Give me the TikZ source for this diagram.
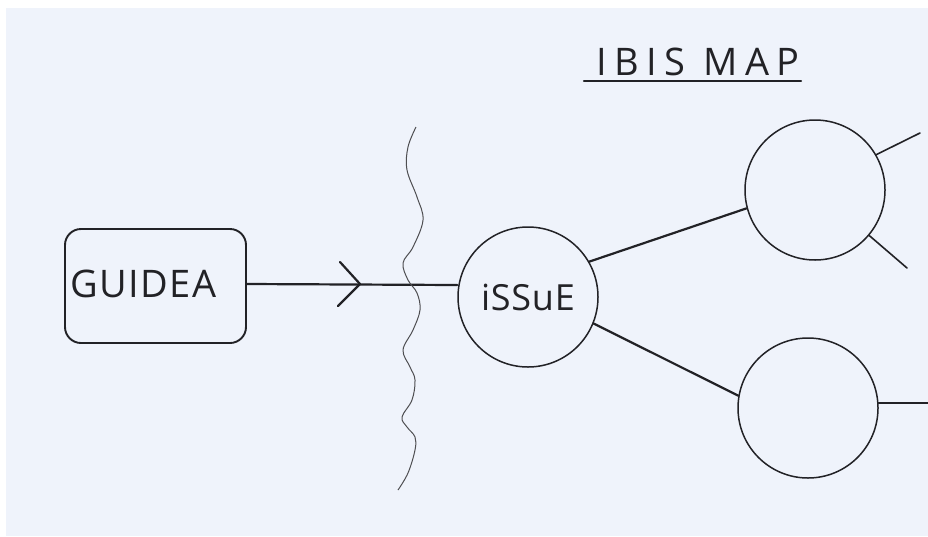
\documentclass[tikz,border=0pt]{standalone}
\usepackage{fontspec}
\setmainfont{Open Sans}
\usetikzlibrary{calc}
\definecolor{paper}{RGB}{239,243,251}
\definecolor{ink}{RGB}{34,34,38}
\tikzset{
  ink line/.style={draw=ink, line width=2.2pt, line cap=round},
  thin ink/.style={draw=ink, line width=1.6pt, line cap=round},
  idea box/.style={draw=ink, line width=1.9pt, rounded corners=16pt,
    minimum width=181pt, minimum height=114pt, inner sep=0pt},
  bubble/.style={circle, draw=ink, line width=1.5pt, minimum size=140pt, inner sep=0pt},
  hand/.style={text=ink, font=\fontsize{38}{40}\selectfont\addfontfeatures{LetterSpace=4}}
}
\begin{document}
\begin{tikzpicture}[x=1pt,y=-1pt]
  \useasboundingbox (0,0) rectangle (928,536);
  \fill[white] (0,0) rectangle (928,536);
  \fill[paper] (6,8) rectangle (928,536);

  % title
  \node[hand, font=\fontsize{38}{40}\selectfont\addfontfeatures{LetterSpace=20}, anchor=south west, inner sep=0pt] (title) at (596,76) {IBIS MAP};
  \draw[ink line] (584,81) -- (801,81);

  % left idea box
  \node[idea box] (idea) at (155.5,286) {};
  \node[hand, anchor=west, inner sep=0pt] (idealabel) at (70,284) {GUIDEA};

  % issue and its positions
  \node[bubble] (issue) at (528,297) {};
  \node[hand, font=\fontsize{36}{38}\selectfont\addfontfeatures{LetterSpace=2}] (issuelabel) at (528,297) {iSSuE};
  \node[bubble] (pos1) at (815,190) {};
  \node[bubble] (pos2) at (808,408) {};

  % free ends on the right
  \coordinate (e1) at (920,133);
  \coordinate (e2) at (907,268);
  \coordinate (e3) at (928,403);

  % connectors
  \draw[ink line] (idea.east |- 0,284) -- (issue.west |- 0,285) coordinate (issuein);
  \draw[ink line, line join=round] (340,262) -- (360,284) -- (338,306);
  \draw[ink line] (issue.30) -- (pos1.195);
  \draw[ink line] (issue.-22) -- (pos2.170);
  \draw[thin ink] (pos1.30) -- (e1);
  \draw[thin ink] (pos1.-40) -- (e2);
  \draw[ink line] (pos2.east |- 0,403) -- (e3);

  % wavy boundary line
  \draw[draw=ink!80, line width=1pt] plot[smooth, tension=0.6] coordinates {
    (416,127) (408,147) (407,170) (417,197) (423,220) (413,247) (403,263)
    (408,280) (417,293) (420,310) (413,330) (403,350) (410,367) (415,380)
    (412,400) (402,417) (407,427) (415,437) (415,450) (408,473) (398,490)};
\end{tikzpicture}
\end{document}
